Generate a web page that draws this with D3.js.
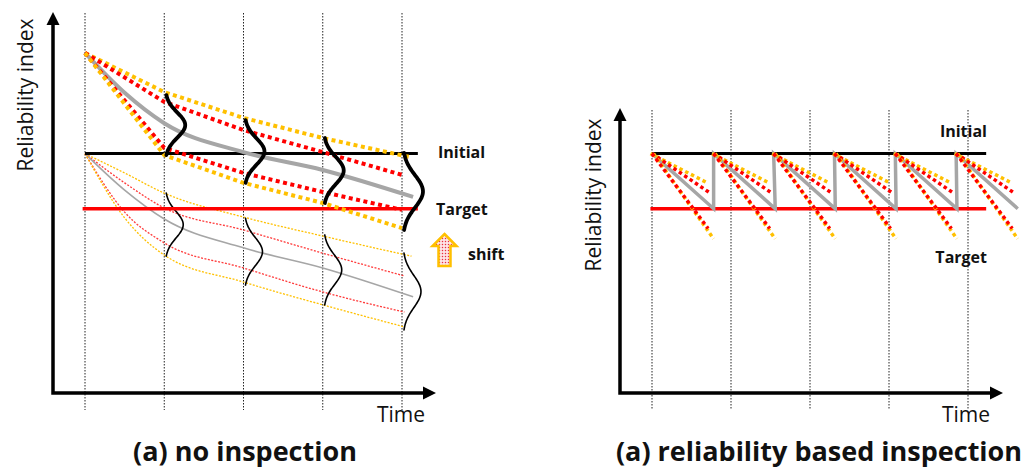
<!DOCTYPE html>
<meta charset="utf-8">
<head>
<style>
body { margin: 0; background: #fff; }
svg { display: block; font-family: "Open Sans", sans-serif; }
.guide { stroke: #222; stroke-width: 1; stroke-dasharray: 1.5,1.5; }
.axis { stroke: #000; stroke-width: 3.5; fill: none; }
.head { fill: #000; }
.lbl { font-size: 21px; fill: #111; }
.tag { font-size: 16px; font-weight: 700; fill: #111; }
.title { font-size: 27px; font-weight: 700; fill: #111; }
</style>
</head>
<body>
<svg width="1022" height="468"></svg>
<script src="https://d3js.org/d3.v7.min.js"></script>
<script>

// levels (reliability index, arbitrary units)
var initialLevel = 6.3,
    targetLevel = 4.85;

var guideTimes = [0, 1, 2, 3, 4];

// (a) no inspection, thick band: [time, reliability]
var yellowUpper = [[0, 8.95], [1, 7.92], [2, 7.24], [3, 6.71], [4.12, 6.2]];
var redUpper    = [[0, 8.95], [1, 7.66], [2, 6.92], [3, 6.34], [4, 5.74]];
var greyMean    = [[0, 8.95], [0.5, 7.9], [1, 7.1], [2, 6.34], [3, 5.87], [4.14, 5.16]];
var redLower    = [[0, 8.95], [1, 6.45], [2, 5.79], [3, 5.29], [4, 4.82]];
var yellowLower = [[0, 8.95], [1, 6.26], [2, 5.53], [3, 5.0], [4, 4.34]];

// thick distributions at t = 1..4 : top / bottom of spread
var distTimes  = [1, 2, 3, 4];
var distTop    = [7.84, 7.18, 6.71, 6.32];
var distBottom = [6.26, 5.53, 5.0, 4.29];

// thin band (shifted) curves
var yellowUpperThin = [[0, 6.3], [0.5, 5.79], [1, 5.26], [2, 4.63], [3, 4.13], [4.12, 3.6]];
var redUpperThin    = [[0, 6.3], [0.5, 5.53], [1, 4.87], [2, 4.29], [3, 3.68], [4.03, 3.08]];
var greyThin        = [[0, 6.3], [0.5, 5.34], [1, 4.58], [2, 3.82], [3, 3.29], [4.14, 2.53]];
var redLowerThin    = [[0, 6.3], [0.5, 4.76], [1, 3.95], [2, 3.29], [3, 2.66], [4.03, 2.13]];
var yellowLowerThin = [[0, 6.3], [0.5, 4.61], [1, 3.63], [2, 2.92], [3, 2.32], [4.03, 1.74]];

var thinDistTop    = [5.26, 4.6, 4.16, 3.68];
var thinDistBottom = [3.6, 2.84, 2.32, 1.66];

// (b) reliability based inspection
var inspections = [0, 0.78, 1.54, 2.31, 3.08, 3.85];
var cycleLength = 0.78;
// each cycle's dotted lines: [dt, drop]
var cycYellowUpper = [0.71, 0.76];
var cycRedUpper    = [0.73, 1.03];
var cycRedLower    = [0.71, 1.97];
var cycYellowLower = [0.76, 2.24];

var svg = d3.select("svg");

var defs = svg.append("defs");
var pat = defs.append("pattern").attr("id", "dots")
    .attr("width", 3).attr("height", 3).attr("patternUnits", "userSpaceOnUse");
pat.append("rect").attr("width", 3).attr("height", 3).attr("fill", "#fde3e6");
pat.append("circle").attr("cx", 1.5).attr("cy", 1.5).attr("r", 0.75).attr("fill", "#e83040");

var y = d3.scaleLinear().domain([0, 10]).range([393, 13]);
var xa = d3.scaleLinear().domain([0, 4]).range([85, 402]);
var xb = d3.scaleLinear().domain([0, 4]).range([652, 968]);

var YEL = "#ffc000", RED = "#ff0000", GRY = "#a6a6a6";

function frame(x, ax, top, tipX, guideTop) {
  svg.append("g").selectAll("line").data(guideTimes).enter().append("line")
      .attr("class", "guide")
      .attr("x1", function(d) { return x(d); }).attr("x2", function(d) { return x(d); })
      .attr("y1", guideTop).attr("y2", 410);
  svg.append("path").attr("class", "axis")
      .attr("d", "M" + ax + "," + 394.7 + "V" + (top + 12) + "M" + (ax - 1.7) + ",393H" + (tipX - 12));
  svg.append("path").attr("class", "head")
      .attr("d", "M" + (ax - 6.5) + "," + (top + 13) + "L" + ax + "," + top + "L" + (ax + 6.5) + "," + (top + 13) + "Z");
  svg.append("path").attr("class", "head")
      .attr("d", "M" + (tipX - 13) + ",386.5L" + tipX + ",393L" + (tipX - 13) + ",399.5Z");
}

function hline(x, t0, t1, v, color, w) {
  svg.append("line")
      .attr("x1", x(t0)).attr("x2", x(t1))
      .attr("y1", y(v)).attr("y2", y(v))
      .attr("stroke", color).attr("stroke-width", w);
}

function curve(x, pts, color, w, dash, smooth) {
  var line = d3.line()
      .x(function(d) { return x(d[0]); })
      .y(function(d) { return y(d[1]); })
      .curve(smooth ? d3.curveMonotoneX : d3.curveLinear);
  svg.append("path").datum(pts)
      .attr("d", line)
      .attr("fill", "none")
      .attr("stroke", color)
      .attr("stroke-width", w)
      .attr("stroke-dasharray", dash);
}

function distributions(x, tops, bottoms, amp, w) {
  distTimes.forEach(function(t, i) {
    var yt = y(tops[i]), yb = y(bottoms[i]), mid = (yt + yb) / 2, s = (yb - yt) / 4.8;
    var pts = d3.range(-2.4, 2.41, 0.1).map(function(z) {
      return [x(t) + 1 + amp * Math.exp(-z * z / 2), mid + z * s];
    });
    svg.append("path").datum(pts)
        .attr("d", d3.line().curve(d3.curveBasis))
        .attr("fill", "none").attr("stroke", "#000")
        .attr("stroke-width", w).attr("stroke-linecap", "round");
  });
}

// ---------- (a) no inspection ----------
frame(xa, 53, 12, 436, 13);

curve(xa, yellowUpperThin, YEL, 1.3, "2,1.5", true);
curve(xa, redUpperThin, "#ff3b3b", 1.3, "2,1.5", true);
curve(xa, greyThin, GRY, 1.6, null, true);
curve(xa, redLowerThin, "#ff3b3b", 1.3, "2,1.5", true);
curve(xa, yellowLowerThin, YEL, 1.3, "2,1.5", true);
distributions(xa, thinDistTop, thinDistBottom, 18, 1.6);

hline(xa, -0.03, 4.2, targetLevel, RED, 3.5);
hline(xa, 0, 4.2, initialLevel, "#000", 3);

curve(xa, greyMean, GRY, 4, null, true);
curve(xa, yellowUpper, YEL, 4, "4,3.5", false);
curve(xa, redUpper, RED, 4, "4,3.5", false);
curve(xa, redLower, RED, 4, "4,3.5", false);
curve(xa, yellowLower, YEL, 4, "4,3.5", false);
distributions(xa, distTop, distBottom, 20, 3.8);

svg.append("text").attr("class", "lbl")
    .attr("transform", "translate(33,95) rotate(-90)")
    .attr("text-anchor", "middle").text("Reliability index");
svg.append("text").attr("class", "lbl").attr("x", 377).attr("y", 422).text("Time");
svg.append("text").attr("class", "tag").attr("x", 438).attr("y", 158).text("Initial");
svg.append("text").attr("class", "tag").attr("x", 436).attr("y", 215).text("Target");
svg.append("path")
    .attr("d", "M444.5,234L456.5,246H450.5V266H438.5V246H432.5Z")
    .attr("fill", "url(#dots)").attr("stroke", YEL).attr("stroke-width", 2.5)
    .attr("stroke-linejoin", "miter");
svg.append("text").attr("class", "tag").attr("x", 468).attr("y", 260).text("shift");
svg.append("text").attr("class", "title").attr("x", 245).attr("y", 461)
    .attr("text-anchor", "middle").text("(a) no inspection");

// ---------- (b) reliability based inspection ----------
frame(xb, 620, 108, 1003, 110);

hline(xb, 0, 4.23, initialLevel, "#000", 3);
hline(xb, -0.02, 4.23, targetLevel, RED, 3.5);

var saw = [];
inspections.forEach(function(t, i) {
  if (i > 0) saw.push([t, initialLevel]);
  saw.push([t, initialLevel]);
  saw.push([t + cycleLength, targetLevel]);
});
curve(xb, saw, GRY, 3.5, null, false);

inspections.forEach(function(t) {
  [[cycYellowUpper, YEL, -1.5], [cycRedUpper, RED, 0], [cycYellowLower, YEL, 1.5], [cycRedLower, RED, 0]]
    .forEach(function(c) {
      var pts = [[t, initialLevel], [t + c[0][0], initialLevel - c[0][1]]];
      curve(function(d) { return xb(d) + c[2]; }, pts, c[1], 3.5, "3.5,3", false);
    });
});

svg.append("text").attr("class", "lbl")
    .attr("transform", "translate(601,195) rotate(-90)")
    .attr("text-anchor", "middle").text("Reliability index");
svg.append("text").attr("class", "lbl").attr("x", 990).attr("y", 422)
    .attr("text-anchor", "end").text("Time");
svg.append("text").attr("class", "tag").attr("x", 987).attr("y", 137)
    .attr("text-anchor", "end").text("Initial");
svg.append("text").attr("class", "tag").attr("x", 987).attr("y", 263)
    .attr("text-anchor", "end").text("Target");
svg.append("text").attr("class", "title").attr("x", 819).attr("y", 461)
    .attr("text-anchor", "middle").text("(a) reliability based inspection");

</script>
</body>
</html>
